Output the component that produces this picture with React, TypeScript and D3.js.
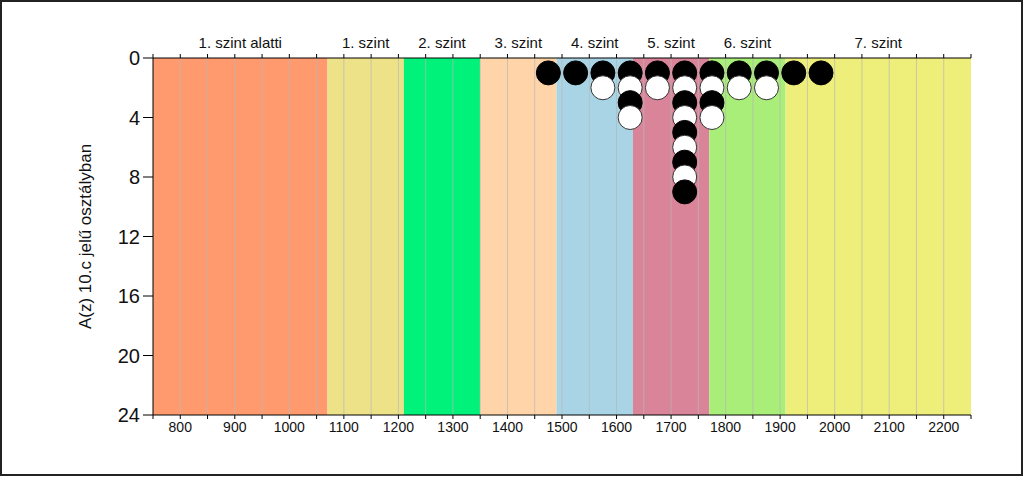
import React from "react";
import * as d3 from "d3";

const bandLabels = ["1. szint alatti", "1. szint", "2. szint", "3. szint", "4. szint", "5. szint", "6. szint", "7. szint"];
const bandEdges = [750, 1070, 1210, 1350, 1490, 1630, 1770, 1910, 2250];
const bandColors = ["#FF9A6E", "#EEE288", "#00F27A", "#FFD4A8", "#A8D4E6", "#DA8499", "#A8EE78", "#EEEE7A"];
const binCenters = [1475, 1525, 1575, 1625, 1675, 1725, 1775, 1825, 1875, 1925, 1975];
const binCounts = [1, 1, 2, 4, 2, 9, 4, 2, 2, 1, 1];
const xTickLabels = [800, 900, 1000, 1100, 1200, 1300, 1400, 1500, 1600, 1700, 1800, 1900, 2000, 2100, 2200];
const yTicks = [0, 4, 8, 12, 16, 20, 24];
const yTitle = "A(z) 10.c jelű osztályban";

const W = 1024, H = 478;
const L = 153, R = 971, T = 58, B = 415;

export default function App() {
  const x = d3.scaleLinear().domain([750, 2250]).range([L, R]);
  const y = d3.scaleLinear().domain([0, 24]).range([T, B]);
  const minor = d3.range(750, 2251, 50);
  const font = "'Liberation Sans', Arial, sans-serif";
  const dots: { cx: number; v: number; k: number }[] = [];
  binCenters.forEach((c, i) => {
    for (let k = 1; k <= binCounts[i]; k++) dots.push({ cx: c, v: k, k });
  });
  dots.sort((a, b) => a.v - b.v);
  const r = 12;
  return (
    <svg width={W} height={H} style={{ position: "absolute", left: 0, top: 0, background: "#fff" }} fontFamily={font}>
      <rect x={1} y={1} width={W - 3} height={H - 4} fill="#fff" stroke="#222" strokeWidth={2} />
      {bandColors.map((c, i) => (
        <rect key={i} x={x(bandEdges[i])} y={T} width={x(bandEdges[i + 1]) - x(bandEdges[i])} height={B - T} fill={c} />
      ))}
      {minor.slice(1, -1).map((v) => (
        <line key={v} x1={x(v)} x2={x(v)} y1={T} y2={B} stroke="#b8b8b8" strokeOpacity={0.7} strokeWidth={1} />
      ))}
      {bandLabels.map((s, i) => (
        <text key={s} x={x((bandEdges[i] + bandEdges[i + 1]) / 2)} y={48} textAnchor="middle" fontSize={15} fill="#111">{s}</text>
      ))}
      <line x1={L} x2={R} y1={T} y2={T} stroke="#000" />
      {minor.map((v) => (
        <line key={"t" + v} x1={x(v)} x2={x(v)} y1={T - 4} y2={T} stroke="#000" />
      ))}
      <line x1={L} x2={R} y1={B} y2={B} stroke="#000" />
      {minor.map((v) => (
        <line key={"b" + v} x1={x(v)} x2={x(v)} y1={B} y2={B + 4} stroke="#000" />
      ))}
      {xTickLabels.map((v) => (
        <text key={"l" + v} x={x(v)} y={432} textAnchor="middle" fontSize={14} fill="#111">{v}</text>
      ))}
      <line x1={L} x2={L} y1={T} y2={B} stroke="#000" />
      {yTicks.map((v) => (
        <g key={"y" + v}>
          <line x1={L - 10} x2={L} y1={y(v)} y2={y(v)} stroke="#000" />
          <text x={140} y={y(v) + 7} textAnchor="end" fontSize={20} fill="#111">{v}</text>
        </g>
      ))}
      <text transform={`translate(91,${(T + B) / 2}) rotate(-90)`} textAnchor="middle" fontSize={17} fill="#111">{yTitle}</text>
      {dots.map((d, i) => (
        <circle key={i} cx={x(d.cx)} cy={y(d.v)} r={r} fill={d.k % 2 === 1 ? "#000" : "#fff"} stroke={d.k % 2 === 1 ? "#000" : "#333"} strokeWidth={1} />
      ))}
    </svg>
  );
}
